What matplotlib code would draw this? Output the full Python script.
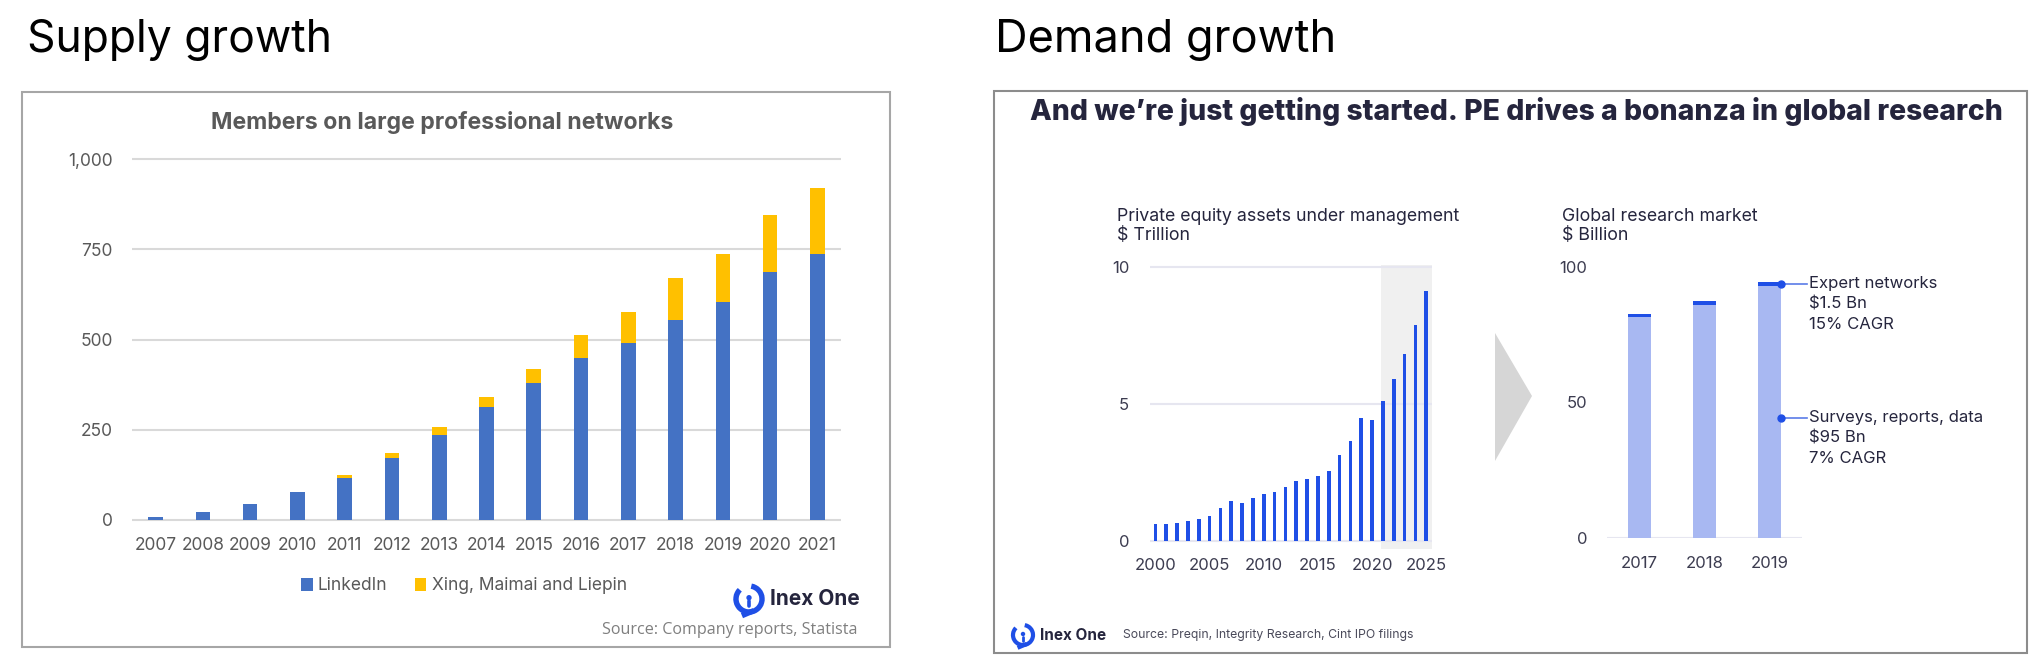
import numpy as np
import matplotlib
matplotlib.use("Agg")
import matplotlib.pyplot as plt
from matplotlib.patches import Rectangle, Polygon, Arc, Circle

# ---- data ----
years_sup = [str(y) for y in range(2007, 2022)]
linkedin = [9, 23, 43, 77, 115, 173, 236, 312, 379, 449, 490, 555, 604, 688, 738]
others_total = [9, 23, 43, 77, 124, 185, 258, 340, 419, 512, 576, 669, 738, 846, 919]
others = [t - l for t, l in zip(others_total, linkedin)]

pe_years = list(range(2000, 2026))
pe_aum = [0.61, 0.63, 0.67, 0.72, 0.80, 0.91, 1.20, 1.46, 1.40, 1.57, 1.71, 1.80, 1.97,
          2.20, 2.25, 2.38, 2.56, 3.12, 3.63, 4.47, 4.42, 5.10, 5.91, 6.82, 7.87, 9.10]

res_years = ["2017", "2018", "2019"]
surveys = [81.7, 86.1, 93.2]
experts = [1.1, 1.3, 1.5]

W, H = 2029, 655
fig = plt.figure(figsize=(W / 100, H / 100), dpi=100)

NAVY = "#25253d"
BLUE = "#1f4fe6"
POP = "Inter"


def place(ax, x0, x1, ytop, ybot):
    ax.set_position([x0 / W, 1 - ybot / H, (x1 - x0) / W, (ybot - ytop) / H])


# overlay in pixel coords for boxes, arrow, logos
ov = fig.add_axes([0, 0, 1, 1])
ov.set_xlim(0, W)
ov.set_ylim(H, 0)
ov.axis("off")
ov.patch.set_alpha(0)

ov.add_patch(Rectangle((22, 92), 868, 555, fill=False, ec="#a6a6a6", lw=1.5))
ov.add_patch(Rectangle((994, 91), 1033, 562, fill=False, ec="#8c8c8c", lw=1.5))
ov.add_patch(Polygon([(1495, 333), (1532, 396), (1495, 461)], closed=True, fc="#d6d6d6", ec="none"))


def logo(cx, cy, r, tsize, tx):
    # ring open at the bottom-left, dot with short stem in the middle
    ov.add_patch(Arc((cx, cy), 2 * r, 2 * r, theta1=-80, theta2=225, lw=r * 0.3, color=BLUE))
    ov.plot([cx + r * 0.17, cx - r * 0.35], [cy + r * 0.98, cy + r * 1.2], color=BLUE, lw=r * 0.3)
    ov.add_patch(Circle((cx, cy - r * 0.1), r * 0.15, color=BLUE))
    ov.plot([cx, cx], [cy + r * 0.15, cy + r * 0.55], color=BLUE, lw=r * 0.2, solid_capstyle="round")
    ov.text(tx, cy, "Inex One", fontsize=tsize, fontweight="bold", color=NAVY,
            family=POP, ha="left", va="center")


logo(749, 599, 13, 15, 770)
logo(1023, 635, 10, 11, 1040)

fig.text(27 / W, 1 - 40 / H, "Supply growth", fontsize=32, family=POP, color="black", va="center")
fig.text(995 / W, 1 - 40 / H, "Demand growth", fontsize=32.5, family=POP, color="black", va="center")

# ---- left chart: members ----
ax1 = fig.add_axes([0, 0, 1, 1])
place(ax1, 132, 841, 159 - 3.6, 520 + 3.6)
x = np.arange(len(years_sup))
ax1.bar(x, linkedin, width=0.31, color="#4472c4", label="LinkedIn", zorder=3)
ax1.bar(x, others, width=0.31, bottom=linkedin, color="#ffc000",
        label="Xing, Maimai and Liepin", zorder=3)
ax1.set_xlim(-0.5, 14.5)
ax1.set_ylim(-10, 1010)
ax1.set_yticks([0, 250, 500, 750, 1000])
ax1.set_yticklabels(["0", "250", "500", "750", "1,000"])
ax1.set_xticks(x)
ax1.set_xticklabels(years_sup)
ax1.grid(axis="y", color="#d9d9d9", lw=1.5, zorder=0)
for s in ax1.spines.values():
    s.set_visible(False)
ax1.tick_params(length=0, labelsize=12.5, labelcolor="#595959")
ax1.tick_params(axis="y", pad=14)
ax1.tick_params(axis="x", pad=10)
for lab in ax1.get_xticklabels() + ax1.get_yticklabels():
    lab.set_family(POP)
fig.text(442 / W, 1 - 122 / H, "Members on large professional networks", fontsize=16.6,
         fontweight="bold", color="#595959", family=POP, ha="center", va="center")
leg = fig.legend(loc="center", bbox_to_anchor=(464 / W, 1 - 586 / H), ncol=2, frameon=False,
                 handlelength=0.65, handleheight=0.75, handletextpad=0.3, columnspacing=1.6,
                 prop={"family": POP, "size": 12.5})
for t in leg.get_texts():
    t.set_color("#595959")
fig.text(858 / W, 1 - 630 / H, "Source: Company reports, Statista", fontsize=11.6,
         family="Open Sans", color="#7f7f7f", ha="right", va="center")

# ---- right title ----
fig.text(1516 / W, 1 - 111 / H, "And we\u2019re just getting started. PE drives a bonanza in global research",
         fontsize=20.4, fontweight="heavy", family=POP, color=NAVY, ha="center", va="center")

# ---- PE AUM ----
ax2 = fig.add_axes([0, 0, 1, 1])
place(ax2, 1150, 1431.7, 266.7 - 0.05 * 27.43, 541 + 0.3 * 27.43)
ax2.axvspan(2020.8, 2025.5, ymin=0, ymax=1, color="#f0f0f0", lw=0, zorder=0)
ax2.bar(pe_years, pe_aum, width=0.34, color=BLUE, zorder=3)
ax2.set_xlim(1999.5, 2025.5)
ax2.set_ylim(-0.3, 10.05)
ax2.set_yticks([0, 5, 10])
ax2.set_xticks([2000, 2005, 2010, 2015, 2020, 2025])
ax2.grid(axis="y", color="#e6e6f0", lw=1.5, zorder=1)
for s in ax2.spines.values():
    s.set_visible(False)
ax2.tick_params(length=0, labelsize=12, labelcolor="#3c3c50")
ax2.tick_params(axis="y", pad=15)
ax2.tick_params(axis="x", pad=6)
for lab in ax2.get_xticklabels() + ax2.get_yticklabels():
    lab.set_family(POP)
fig.text(1117 / W, 1 - 216 / H, "Private equity assets under management", fontsize=12.8,
         family=POP, color=NAVY, va="center")
fig.text(1117 / W, 1 - 236 / H, "$ Trillion", fontsize=12.8, family=POP, color=NAVY, va="center")

# ---- research market ----
ax3 = fig.add_axes([0, 0, 1, 1])
place(ax3, 1607, 1801.7, 267.3, 537.7)
xr = np.arange(len(res_years))
ax3.bar(xr, surveys, width=0.36, color="#a8b8f2", zorder=3)
ax3.bar(xr, experts, width=0.36, bottom=surveys, color=BLUE, zorder=3)
ax3.axhline(0, color="#e6e6f0", lw=1.5, zorder=1)
ax3.set_xlim(-0.5, 2.5)
ax3.set_ylim(0, 100)
ax3.set_yticks([0, 50, 100])
ax3.set_xticks(xr)
ax3.set_xticklabels(res_years)
for s in ax3.spines.values():
    s.set_visible(False)
ax3.tick_params(length=0, labelsize=12, labelcolor="#3c3c50")
ax3.tick_params(axis="y", pad=14)
ax3.tick_params(axis="x", pad=13)
for lab in ax3.get_xticklabels() + ax3.get_yticklabels():
    lab.set_family(POP)
fig.text(1562 / W, 1 - 216 / H, "Global research market", fontsize=12.8, family=POP,
         color=NAVY, va="center")
fig.text(1562 / W, 1 - 236 / H, "$ Billion", fontsize=12.8, family=POP, color=NAVY, va="center")

notes = [(surveys[2] + experts[2] / 2, ["Expert networks", "$1.5 Bn", "15% CAGR"]),
         (44.4, ["Surveys, reports, data", "$95 Bn", "7% CAGR"])]
for yv, lines in notes:
    ax3.plot([2.18, 2.58], [yv, yv], color="#5a7be8", lw=1.2, clip_on=False, zorder=4)
    ax3.plot([2.18], [yv], "o", color=BLUE, ms=5, clip_on=False, zorder=5)
    for i, txt in enumerate(lines):
        ax3.annotate(txt, xy=(2.62, yv), xytext=(0, -14.6 * i), textcoords="offset points",
                     fontsize=12, family=POP, color=NAVY, va="center", ha="left",
                     annotation_clip=False)

fig.text(1123 / W, 1 - 635 / H, "Source: Preqin, Integrity Research, Cint IPO filings",
         fontsize=8.8, family=POP, color="#4a4a5a", va="center")

fig.savefig("out.png", dpi=100)
